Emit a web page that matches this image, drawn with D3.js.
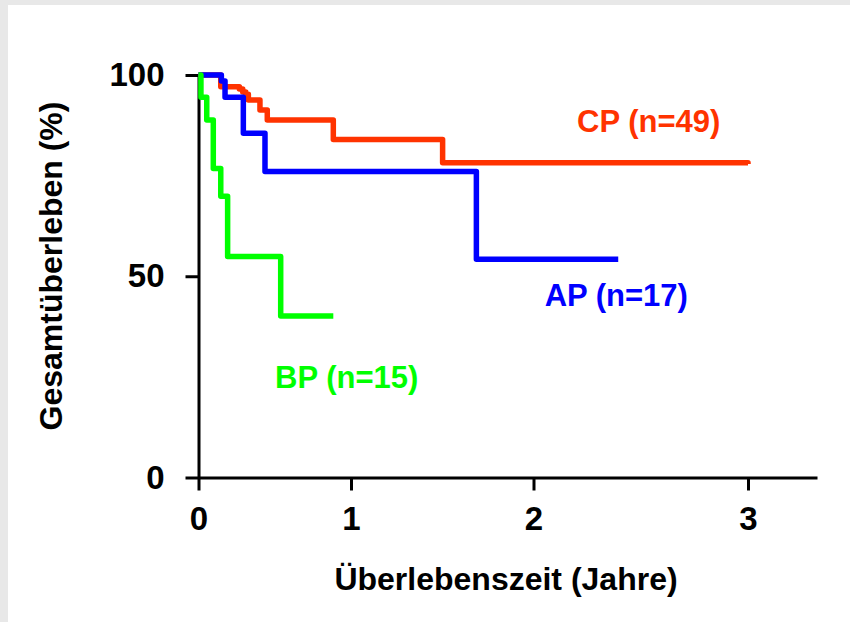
<!DOCTYPE html>
<html>
<head>
<meta charset="utf-8">
<script src="https://cdn.jsdelivr.net/npm/d3@7"></script>
<style>
  html, body { margin: 0; padding: 0; background: #e8e8e8; }
  svg { display: block; }
  text { font-family: Arial, "Liberation Sans", sans-serif; font-weight: bold; }
</style>
</head>
<body>
<svg id="chart" width="850" height="622"></svg>
<script>
// ---- data ----
const xTickValues = [0, 1, 2, 3];
const yTickValues = [0, 50, 100];

const cpTime = [0, 0.146, 0.268, 0.29, 0.31, 0.327, 0.403, 0.451, 0.884, 1.502, 3.0];
const cpSurv = [100, 97.1, 96.5, 95.8, 95.2, 93.8, 91.3, 88.8, 84.0, 78.2, 77.9];

const apTime = [0, 0.15, 0.174, 0.294, 0.436, 1.687, 2.395];
const apSurv = [100, 98.5, 94.5, 85.5, 76.0, 54.2, 54.2];

const bpTime = [0, 0.016, 0.054, 0.097, 0.146, 0.191, 0.539, 0.884];
const bpSurv = [100, 94.5, 88.8, 76.8, 69.9, 54.9, 40.1, 40.1];

const seriesNames = ["CP (n=49)", "AP (n=17)", "BP (n=15)"];
const seriesColors = ["#ff3300", "#0000ff", "#00ff00"];
// label anchor positions in data units (years, %)
const labelTime = [2.203, 2.052, 0.502];
const labelSurv = [85.8, 42.6, 22.2];

// ---- layout ----
const svg = d3.select("#chart");
svg.append("rect").attr("x", 8).attr("y", 5).attr("width", 842).attr("height", 617).attr("fill", "#ffffff");

// the original axis has uneven tick spacing, so use a piecewise scale
const x = d3.scaleLinear().domain([0, 1, 2, 3, 3.32]).range([198.5, 351, 533.5, 748, 817]);
const y = d3.scaleLinear().domain([0, 100]).range([477.5, 75]);

const fontSize = 31;
const titleSize = 32;
const tickSize = 33;

// axes
const gx = svg.append("g").attr("transform", `translate(0,${y(0)})`)
  .call(d3.axisBottom(x).tickValues(xTickValues).tickFormat(d3.format("d"))
    .tickSize(13).tickSizeOuter(0).tickPadding(16));
const gy = svg.append("g").attr("transform", `translate(${x(0)},0)`)
  .call(d3.axisLeft(y).tickValues(yTickValues).tickFormat(d3.format("d"))
    .tickSize(13).tickSizeOuter(0).tickPadding(21));
[gx, gy].forEach(g => {
  g.select(".domain").attr("stroke", "#000").attr("stroke-width", 3);
  g.selectAll(".tick line").attr("stroke", "#000").attr("stroke-width", 3);
  g.selectAll(".tick text").attr("fill", "#000")
    .style("font-size", tickSize + "px").style("font-family", 'Arial, "Liberation Sans", sans-serif')
    .style("font-weight", "bold");
});

// curves
const series = [
  { t: cpTime, s: cpSurv },
  { t: apTime, s: apSurv },
  { t: bpTime, s: bpSurv }
];
const line = d3.line().curve(d3.curveStepAfter).x(d => x(d[0])).y(d => y(d[1]));
series.forEach((ser, i) => {
  const pts = ser.t.map((t, k) => [t, ser.s[k]]);
  svg.append("path").datum(pts)
    .attr("d", line)
    .attr("fill", "none")
    .attr("stroke", seriesColors[i])
    .attr("stroke-width", 5.5)
    .attr("stroke-linejoin", "round");
});

// series labels
seriesNames.forEach((name, i) => {
  svg.append("text")
    .attr("x", x(labelTime[i])).attr("y", y(labelSurv[i]))
    .attr("fill", seriesColors[i])
    .style("font-size", fontSize + "px")
    .text(name);
});

// axis titles
svg.append("text")
  .attr("x", 506).attr("y", 590)
  .attr("text-anchor", "middle")
  .style("font-size", titleSize + "px")
  .text("Überlebenszeit (Jahre)");
svg.append("text")
  .attr("transform", "translate(62,266) rotate(-90)")
  .attr("text-anchor", "middle")
  .style("font-size", titleSize + "px")
  .text("Gesamtüberleben (%)");
</script>
</body>
</html>
